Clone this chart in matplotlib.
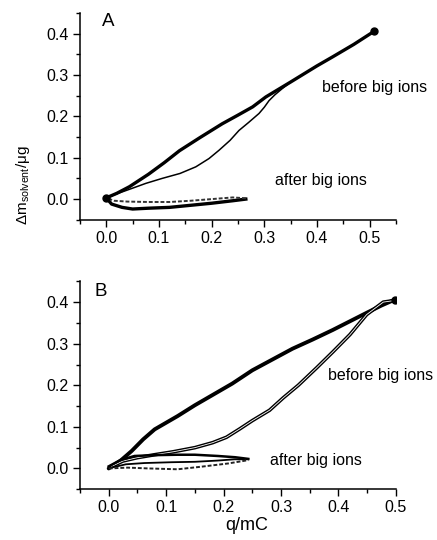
import matplotlib
matplotlib.use("Agg")
import matplotlib.pyplot as plt
from matplotlib.ticker import MultipleLocator

plt.rcParams['font.family'] = ['Liberation Sans', 'DejaVu Sans']
plt.rcParams['mathtext.fontset'] = 'custom'
plt.rcParams['mathtext.rm'] = 'Liberation Sans'
plt.rcParams['mathtext.it'] = 'Liberation Sans'

# Panel A - before big ions (charging, thick branch)
a_up_q = [0.0, 0.02, 0.044, 0.08, 0.11, 0.139, 0.177, 0.22, 0.25, 0.278, 0.303, 0.35, 0.40, 0.43, 0.47, 0.509]
a_up_m = [0.003, 0.014, 0.03, 0.06, 0.088, 0.117, 0.148, 0.182, 0.203, 0.223, 0.247, 0.283, 0.322, 0.344, 0.374, 0.406]
# Panel A - before big ions (return branch, thin)
a_dn_q = [0.347, 0.334, 0.32, 0.309, 0.30, 0.29, 0.27, 0.252, 0.235, 0.214, 0.195, 0.17, 0.14, 0.106, 0.075, 0.049, 0.025, 0.01]
a_dn_m = [0.28, 0.267, 0.252, 0.238, 0.222, 0.207, 0.185, 0.166, 0.142, 0.118, 0.098, 0.078, 0.062, 0.05, 0.038, 0.026, 0.015, 0.008]
# Panel A - after big ions
a_af1_q = [0.0, 0.01, 0.03, 0.05, 0.08, 0.12, 0.16, 0.2, 0.24, 0.265]
a_af1_m = [0.003, -0.012, -0.02, -0.024, -0.022, -0.02, -0.015, -0.01, -0.004, 0.0]
a_af2_q = [0.265, 0.24, 0.2, 0.16, 0.12, 0.08, 0.04, 0.015, 0.0]
a_af2_m = [0.002, 0.004, 0.0, -0.004, -0.007, -0.007, -0.006, -0.004, 0.003]

# Panel B - before big ions
b_up_q = [0.0, 0.02, 0.04, 0.06, 0.08, 0.1, 0.12, 0.15, 0.18, 0.215, 0.25, 0.285, 0.32, 0.355, 0.39, 0.42, 0.45, 0.475, 0.498]
b_up_m = [0.0, 0.018, 0.042, 0.07, 0.094, 0.11, 0.126, 0.152, 0.176, 0.204, 0.236, 0.262, 0.288, 0.31, 0.333, 0.354, 0.375, 0.392, 0.406]
b_dn_q = [0.498, 0.478, 0.449, 0.42, 0.39, 0.362, 0.33, 0.304, 0.28, 0.25, 0.228, 0.205, 0.181, 0.15, 0.112, 0.08, 0.05, 0.025, 0.005]
b_dn_m = [0.404, 0.400, 0.37, 0.322, 0.28, 0.242, 0.2, 0.17, 0.14, 0.115, 0.095, 0.075, 0.062, 0.05, 0.04, 0.033, 0.026, 0.018, 0.005]
# Panel B - after big ions
b_af1_q = [0.0, 0.02, 0.045, 0.08, 0.12, 0.15, 0.19, 0.22, 0.243]
b_af1_m = [0.005, 0.02, 0.03, 0.032, 0.033, 0.033, 0.03, 0.027, 0.023]
b_af2_q = [0.243, 0.219, 0.19, 0.15, 0.11, 0.062, 0.03, 0.005]
b_af2_m = [0.022, 0.022, 0.019, 0.016, 0.015, 0.013, 0.01, 0.002]
b_af3_q = [0.0, 0.033, 0.07, 0.12, 0.16, 0.208, 0.243]
b_af3_m = [0.0, 0.002, 0.0, -0.002, 0.004, 0.012, 0.02]

fig = plt.figure(figsize=(4.37, 5.40), dpi=100)
ax1 = fig.add_axes([0.183, 0.593, 0.723, 0.383])
ax2 = fig.add_axes([0.183, 0.094, 0.723, 0.385])


def style_axis(ax, xmax):
    ax.set_xlim(-0.05, xmax)
    ax.set_ylim(-0.05, 0.45)
    ax.spines['top'].set_visible(False)
    ax.spines['right'].set_visible(False)
    for s in ('left', 'bottom'):
        ax.spines[s].set_linewidth(1.1)
    ax.xaxis.set_major_locator(MultipleLocator(0.1))
    ax.xaxis.set_minor_locator(MultipleLocator(0.05))
    ax.yaxis.set_major_locator(MultipleLocator(0.1))
    ax.yaxis.set_minor_locator(MultipleLocator(0.05))
    ax.xaxis.set_major_formatter('{x:.1f}')
    ax.yaxis.set_major_formatter('{x:.1f}')
    ax.tick_params(which='major', direction='out', length=5, width=1.0, labelsize=11.5, pad=3)
    ax.tick_params(which='minor', direction='out', length=3, width=1.0)


# panel A
ax1.plot(a_up_q, a_up_m, color='black', lw=2.4, solid_capstyle='round')
ax1.plot(a_up_q[-1:], a_up_m[-1:], 'o', color='black', ms=5)
ax1.plot(a_dn_q, a_dn_m, color='black', lw=1.1)
ax1.plot(a_af1_q, a_af1_m, color='black', lw=2.4)
ax1.plot(a_af2_q, a_af2_m, color='#333333', lw=1.4, ls=(0, (2, 1)))
ax1.plot(a_af1_q[:1], a_af1_m[:1], 'o', color='black', ms=5)
style_axis(ax1, 0.55)
ax1.text(0.004, 0.43, 'A', fontsize=13.5, ha='center', va='center')
ax1.text(0.509, 0.27, 'before big ions', fontsize=11.5, ha='center', va='center', clip_on=False)
ax1.text(0.407, 0.044, 'after big ions', fontsize=11.5, ha='center', va='center')

# panel B
ax2.plot(b_up_q, b_up_m, color='black', lw=2.8, solid_capstyle='round')
ax2.plot(b_dn_q, b_dn_m, color='black', lw=2.6)
ax2.plot(b_dn_q, b_dn_m, color='white', lw=0.6)
ax2.plot(b_up_q[-1:], b_up_m[-1:], 'o', color='black', ms=5)
ax2.plot(b_af1_q, b_af1_m, color='black', lw=1.8)
ax2.plot(b_af2_q, b_af2_m, color='black', lw=1.3)
ax2.plot(b_af3_q, b_af3_m, color='#222222', lw=1.4, ls=(0, (2, 1)))
style_axis(ax2, 0.5)
ax2.text(-0.013, 0.426, 'B', fontsize=13.5, ha='center', va='center')
ax2.text(0.474, 0.224, 'before big ions', fontsize=11.5, ha='center', va='center', clip_on=False)
ax2.text(0.361, 0.02, 'after big ions', fontsize=11.5, ha='center', va='center')
ax2.set_xlabel('q/mC', fontsize=13)
ax2.xaxis.set_label_coords(0.528, -0.135)

fig.text(23 / 437, 1 - 185 / 540, 'Δm$_{\\mathrm{solvent}}$/μg', rotation=90,
         fontsize=11, ha='center', va='center')

fig.savefig('out.png', dpi=100)
